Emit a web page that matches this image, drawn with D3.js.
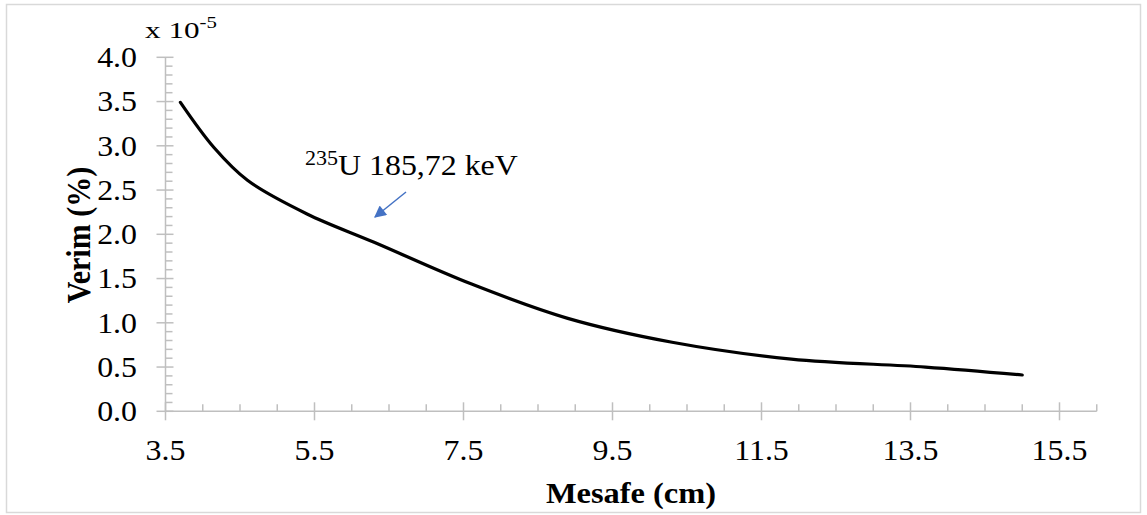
<!DOCTYPE html>
<html>
<head>
<meta charset="utf-8">
<script src="https://cdn.jsdelivr.net/npm/d3@7"></script>
<style>
  html, body { margin: 0; padding: 0; background: #fff; }
  svg { display: block; }
  text { font-family: "Liberation Serif", "Times New Roman", serif; fill: #000; }
</style>
</head>
<body>
<svg id="chart" width="1147" height="515"></svg>
<script>
// Data (efficiency in units of 1e-5 %, distance in cm)
const distance = [3.7, 4.15, 4.6, 5.4, 6.3, 7.6, 8.9, 10.3, 11.9, 13.7, 15.0];
const efficiency = [3.49, 2.98, 2.61, 2.23, 1.91, 1.44, 1.05, 0.78, 0.59, 0.50, 0.41];
const xTickValues = [3.5, 5.5, 7.5, 9.5, 11.5, 13.5, 15.5];
const yTickValues = [0, 0.5, 1.0, 1.5, 2.0, 2.5, 3.0, 3.5, 4.0];
const xTitle = "Mesafe (cm)";
const yTitle = "Verim (%)";
const annotationSup = "235";
const annotationText = "U 185,72 keV";

const svg = d3.select("#chart");
const axisColor = "#bfbfbf";
const SX = 1.1; // horizontal stretch of the original rendering

// outer border
svg.append("rect").attr("x", 6.5).attr("y", 4.5).attr("width", 1134).attr("height", 508)
  .attr("fill", "none").attr("stroke", "#d9d9d9").attr("stroke-width", 1.5);

const x = d3.scaleLinear().domain([3.5, 16]).range([165.5, 1096.75]);
const y = d3.scaleLinear().domain([0, 4]).range([411.3, 57.3]);

const g = svg.append("g");
g.append("line").attr("x1", x(3.5)).attr("x2", x(16)).attr("y1", y(0)).attr("y2", y(0))
  .attr("stroke", axisColor).attr("stroke-width", 1.5);
g.append("line").attr("x1", x(3.5)).attr("x2", x(3.5)).attr("y1", y(0)).attr("y2", y(4))
  .attr("stroke", axisColor).attr("stroke-width", 1.5);

// X minor ticks (every 0.5)
const xMinor = d3.range(3.5, 16.001, 0.5).filter(v => !xTickValues.some(t => Math.abs(t - v) < 1e-6));
g.selectAll(".xminor").data(xMinor).join("line")
  .attr("x1", d => x(d)).attr("x2", d => x(d)).attr("y1", y(0)).attr("y2", y(0) - 7)
  .attr("stroke", axisColor).attr("stroke-width", 1.5);
g.selectAll(".xmajor").data(xTickValues).join("line")
  .attr("x1", d => x(d)).attr("x2", d => x(d)).attr("y1", y(0) - 9).attr("y2", y(0) + 9)
  .attr("stroke", axisColor).attr("stroke-width", 1.5);
g.selectAll(".xlab").data(xTickValues).join("text")
  .attr("transform", d => `translate(${x(d)},460) scale(${SX},1)`)
  .attr("text-anchor", "middle").attr("font-size", 29)
  .text(d => d3.format(".1f")(d));

// Y minor ticks (every 0.1)
const yMinor = d3.range(0, 40.5, 1).map(v => v / 10).filter(v => Math.abs(v * 2 - Math.round(v * 2)) > 1e-6);
g.selectAll(".yminor").data(yMinor).join("line")
  .attr("x1", x(3.5)).attr("x2", x(3.5) + 7).attr("y1", d => y(d)).attr("y2", d => y(d))
  .attr("stroke", axisColor).attr("stroke-width", 1.5);
g.selectAll(".ymajor").data(yTickValues).join("line")
  .attr("x1", x(3.5) - 9).attr("x2", x(3.5) + 8).attr("y1", d => y(d)).attr("y2", d => y(d))
  .attr("stroke", axisColor).attr("stroke-width", 1.5);
g.selectAll(".ylab").data(yTickValues).join("text")
  .attr("transform", d => `translate(137,${y(d)}) scale(${SX},1)`).attr("dy", "0.34em")
  .attr("text-anchor", "end").attr("font-size", 29)
  .text(d => d3.format(".1f")(d));

// Multiplier label
const mult = svg.append("text").attr("transform", "translate(145,38) scale(1.3,1)").attr("font-size", 24);
mult.append("tspan").text("x 10");
mult.append("tspan").attr("font-size", 16).attr("dy", -10).text("-5");

// Axis titles
svg.append("text").attr("transform", `translate(631,503) scale(${SX},1)`).attr("text-anchor", "middle")
  .attr("font-size", 29.5).attr("font-weight", "bold").text(xTitle);
svg.append("text").attr("transform", `translate(90,235) rotate(-90) scale(1,${SX})`).attr("text-anchor", "middle")
  .attr("font-size", 30).attr("font-weight", "bold").text(yTitle);

// Curve
const line = d3.line().x((d, i) => x(distance[i])).y((d, i) => y(efficiency[i])).curve(d3.curveCatmullRom.alpha(0.5));
svg.append("path").datum(efficiency).attr("d", line)
  .attr("fill", "none").attr("stroke", "#000").attr("stroke-width", 3.2)
  .attr("stroke-linecap", "round").attr("stroke-linejoin", "round");

// Annotation
const ann = svg.append("text").attr("transform", `translate(305,175) scale(${SX},1)`).attr("font-size", 29);
ann.append("tspan").attr("font-size", 20).attr("dy", -10).text(annotationSup);
ann.append("tspan").attr("dy", 10).text(annotationText);

// Arrow
const blue = "#4472c4";
svg.append("defs").append("marker").attr("id", "ah").attr("viewBox", "0 0 10 10")
  .attr("refX", 9).attr("refY", 5).attr("markerWidth", 9).attr("markerHeight", 8)
  .attr("orient", "auto").attr("markerUnits", "strokeWidth")
  .append("path").attr("d", "M0,0 L10,5 L0,10 Z").attr("fill", blue);
svg.append("line").attr("x1", 406).attr("y1", 192).attr("x2", 375).attr("y2", 217)
  .attr("stroke", blue).attr("stroke-width", 1.5).attr("marker-end", "url(#ah)");
</script>
</body>
</html>
